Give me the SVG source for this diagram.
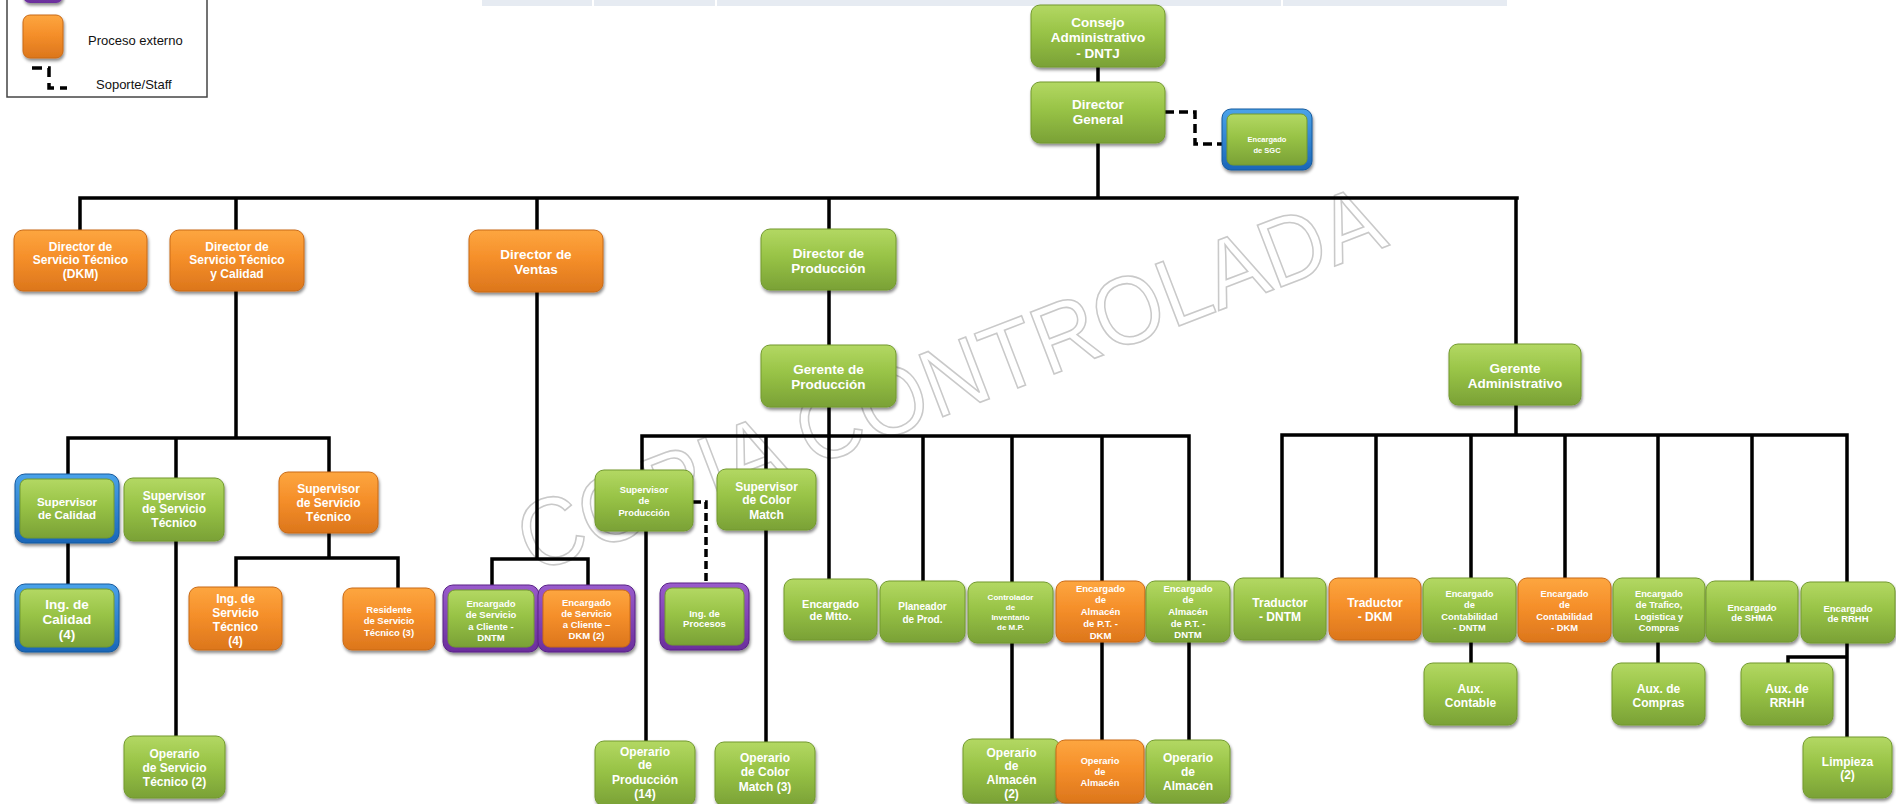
<svg xmlns="http://www.w3.org/2000/svg" width="1896" height="804" viewBox="0 0 1896 804">
<defs>
<linearGradient id="gg" x1="0" y1="0" x2="0" y2="1">
<stop offset="0" stop-color="#b3d863"/><stop offset="0.45" stop-color="#98c346"/><stop offset="1" stop-color="#7aa136"/>
</linearGradient>
<linearGradient id="og" x1="0" y1="0" x2="0" y2="1">
<stop offset="0" stop-color="#fda640"/><stop offset="0.45" stop-color="#f58f2a"/><stop offset="1" stop-color="#dc761c"/>
</linearGradient>
<linearGradient id="bg" x1="0" y1="0" x2="0" y2="1">
<stop offset="0" stop-color="#4aa3ea"/><stop offset="1" stop-color="#1a66b8"/>
</linearGradient>
<linearGradient id="pg" x1="0" y1="0" x2="0" y2="1">
<stop offset="0" stop-color="#9a5ccc"/><stop offset="1" stop-color="#6b2e9c"/>
</linearGradient>
<filter id="sh" x="-10%" y="-10%" width="120%" height="130%">
<feDropShadow dx="1" dy="2.5" stdDeviation="1.6" flood-color="#000" flood-opacity="0.45"/>
</filter>
</defs>
<style>
.g{fill:url(#gg);stroke:#72992f;stroke-width:1}
.o{fill:url(#og);stroke:#c96a16;stroke-width:1}
.b{fill:url(#bg);stroke:#155a9e;stroke-width:1}
.p{fill:url(#pg);stroke:#5a2387;stroke-width:1}
.n{filter:url(#sh)}
.t{fill:#fff;font-family:'Liberation Sans',Arial,sans-serif;font-weight:bold;text-anchor:middle}
.c{fill:none;stroke:#000;stroke-width:3.5;stroke-linecap:square}
.d{fill:none;stroke:#000;stroke-width:3.5;stroke-dasharray:9 5}
.lg{font-family:'Liberation Sans',Arial,sans-serif;font-size:13px;fill:#111}
</style>
<rect width="1896" height="804" fill="#fff"/>
<g id="topbar">
<rect x="482" y="0" width="1025" height="6" fill="#e6ebf2"/>
<rect x="592" y="0" width="2" height="6" fill="#fff"/>
<rect x="715" y="0" width="2" height="6" fill="#fff"/>
<rect x="1281" y="0" width="2" height="6" fill="#fff"/>
</g>
<g id="legend">
<rect x="7" y="-10" width="200" height="107" fill="#fff" stroke="#444" stroke-width="1.5"/>
<rect x="23" y="-40" width="40" height="43" rx="7" fill="url(#pg)" class="n"/>
<rect x="23" y="15" width="40" height="43" rx="7" class="o n"/>
<text x="88" y="45" class="lg">Proceso externo</text>
<path d="M32 68 H49 V88 H67" fill="none" stroke="#000" stroke-width="3.5" stroke-dasharray="10 6"/>
<text x="96" y="89" class="lg">Soporte/Staff</text>
</g>
<g id="watermark">
<text x="533" y="574" transform="rotate(-21 533 574)" font-family="'Liberation Sans',Arial,sans-serif" font-size="96" textLength="918" lengthAdjust="spacingAndGlyphs" fill="none" stroke="#c9c9c9" stroke-width="1.6">COPIA CONTROLADA</text>
</g>
<g id="connectors">
<path class="c" d="M1098 67 V82 M1098 143 V198 M80 198 H1517 M80 198 V230 M236 198 V230 M537 198 V230 M829 198 V229 M1516 198 V344"/>
<path class="d" d="M1165 112 H1195 V144 H1222"/>
<path class="c" d="M236 291 V438 M68 438 H329 M68 438 V474 M176 438 V478 M329 438 V472 M68 543 V584 M176 541 V736 M329 533 V558 M236 558 H398 M236 558 V587 M398 558 V588"/>
<path class="c" d="M537 292 V559 M492 559 H588 M492 559 V585 M588 559 V585"/>
<path class="c" d="M829 290 V345 M829 407 V579 M642 436 H1189 M642 436 V470 M766 436 V469 M923 436 V581 M1012 436 V582 M1102 436 V581 M1189 436 V581 M646 531 V741 M766 530 V742 M1012 643 V739 M1102 642 V740 M1189 642 V740"/>
<path d="M693 502 H706 V583" fill="none" stroke="#000" stroke-width="3.5" stroke-dasharray="8 4"/>
<path class="c" d="M1516 405 V435 M1282 435 H1847 M1282 435 V578 M1376 435 V578 M1471 435 V578 M1565 435 V578 M1658 435 V578 M1752 435 V581 M1847 435 V582 M1471 642 V663 M1658 642 V663 M1847 643 V737 M1847 657 H1788 V663"/>
</g>
<g id="consejo"><rect x="1031" y="5" width="134" height="62" rx="9" class="g n"/><text class="t" font-size="13.5"><tspan x="1098" y="26.5">Consejo</tspan><tspan x="1098" y="42">Administrativo</tspan><tspan x="1098" y="57.5">- DNTJ</tspan></text></g>
<g id="director-general"><rect x="1031" y="82" width="134" height="61" rx="9" class="g n"/><text class="t" font-size="13.5"><tspan x="1098" y="109">Director</tspan><tspan x="1098" y="124">General</tspan></text></g>
<g id="sgc"><rect x="1222" y="109" width="90" height="61" rx="9" class="b n"/><rect x="1227" y="114" width="80" height="51" rx="6" class="g"/><text class="t" font-size="7.5"><tspan x="1267" y="141.7">Encargado</tspan><tspan x="1267" y="152.7">de SGC</tspan></text></g>
<g id="dst-dkm"><rect x="14" y="230" width="133" height="61" rx="9" class="o n"/><text class="t" font-size="12"><tspan x="80.5" y="251">Director de</tspan><tspan x="80.5" y="264.3">Servicio Técnico</tspan><tspan x="80.5" y="277.6">(DKM)</tspan></text></g>
<g id="dst-calidad"><rect x="170" y="230" width="134" height="61" rx="9" class="o n"/><text class="t" font-size="12"><tspan x="237" y="251">Director de</tspan><tspan x="237" y="264.3">Servicio Técnico</tspan><tspan x="237" y="277.6">y Calidad</tspan></text></g>
<g id="ventas"><rect x="469" y="230" width="134" height="62" rx="9" class="o n"/><text class="t" font-size="13.5"><tspan x="536" y="258.8">Director de</tspan><tspan x="536" y="273.8">Ventas</tspan></text></g>
<g id="dir-produccion"><rect x="761" y="229" width="135" height="61" rx="9" class="g n"/><text class="t" font-size="13.5"><tspan x="828.5" y="258">Director de</tspan><tspan x="828.5" y="273">Producción</tspan></text></g>
<g id="ger-produccion"><rect x="761" y="345" width="135" height="62" rx="9" class="g n"/><text class="t" font-size="13.5"><tspan x="828.5" y="374">Gerente de</tspan><tspan x="828.5" y="389">Producción</tspan></text></g>
<g id="ger-admin"><rect x="1449" y="344" width="132" height="61" rx="9" class="g n"/><text class="t" font-size="13.5"><tspan x="1515" y="373">Gerente</tspan><tspan x="1515" y="388">Administrativo</tspan></text></g>
<g id="sup-calidad"><rect x="15" y="474" width="104" height="69" rx="10" class="b n"/><rect x="20" y="479" width="94" height="59" rx="7" class="g"/><text class="t" font-size="11.5"><tspan x="67" y="506">Supervisor</tspan><tspan x="67" y="518.6">de Calidad</tspan></text></g>
<g id="ing-calidad"><rect x="15" y="584" width="104" height="68" rx="10" class="b n"/><rect x="20" y="589" width="94" height="58" rx="7" class="g"/><text class="t" font-size="13.5"><tspan x="67" y="608.8">Ing. de</tspan><tspan x="67" y="623.8">Calidad</tspan><tspan x="67" y="638.8">(4)</tspan></text></g>
<g id="sup-st-g"><rect x="124" y="478" width="100" height="63" rx="9" class="g n"/><text class="t" font-size="12"><tspan x="174" y="499.5">Supervisor</tspan><tspan x="174" y="513">de Servicio</tspan><tspan x="174" y="527">Técnico</tspan></text></g>
<g id="op-st"><rect x="124" y="736" width="101" height="62" rx="9" class="g n"/><text class="t" font-size="12"><tspan x="174.5" y="757.5">Operario</tspan><tspan x="174.5" y="771.5">de Servicio</tspan><tspan x="174.5" y="785.5">Técnico (2)</tspan></text></g>
<g id="sup-st-o"><rect x="279" y="472" width="99" height="61" rx="9" class="o n"/><text class="t" font-size="12"><tspan x="328.5" y="492.5">Supervisor</tspan><tspan x="328.5" y="506.5">de Servicio</tspan><tspan x="328.5" y="520.5">Técnico</tspan></text></g>
<g id="ing-st"><rect x="189" y="587" width="93" height="63" rx="9" class="o n"/><text class="t" font-size="12"><tspan x="235.5" y="602.5">Ing. de</tspan><tspan x="235.5" y="616.5">Servicio</tspan><tspan x="235.5" y="630.5">Técnico</tspan><tspan x="235.5" y="644.5">(4)</tspan></text></g>
<g id="residente"><rect x="343" y="588" width="92" height="62" rx="9" class="o n"/><text class="t" font-size="9.5"><tspan x="389" y="612.5">Residente</tspan><tspan x="389" y="623.5">de Servicio</tspan><tspan x="389" y="635.5">Técnico (3)</tspan></text></g>
<g id="esc-dntm"><rect x="443" y="585" width="96" height="67" rx="10" class="p n"/><rect x="448" y="590" width="86" height="57" rx="7" class="g"/><text class="t" font-size="9.5"><tspan x="491" y="606.5">Encargado</tspan><tspan x="491" y="617.5">de Servicio</tspan><tspan x="491" y="629.5">a  Cliente -</tspan><tspan x="491" y="640.5">DNTM</tspan></text></g>
<g id="esc-dkm"><rect x="538" y="585" width="97" height="67" rx="10" class="p n"/><rect x="543" y="590" width="87" height="57" rx="7" class="o"/><text class="t" font-size="9.5"><tspan x="586.5" y="605.5">Encargado</tspan><tspan x="586.5" y="616.5">de Servicio</tspan><tspan x="586.5" y="627.5">a  Cliente –</tspan><tspan x="586.5" y="638.5">DKM  (2)</tspan></text></g>
<g id="sup-prod"><rect x="595" y="470" width="98" height="61" rx="9" class="g n"/><text class="t" font-size="9.3"><tspan x="644" y="492.5">Supervisor</tspan><tspan x="644" y="503.5">de</tspan><tspan x="644" y="515.5">Producción</tspan></text></g>
<g id="sup-cm"><rect x="717" y="469" width="99" height="61" rx="9" class="g n"/><text class="t" font-size="12"><tspan x="766.5" y="490.5">Supervisor</tspan><tspan x="766.5" y="503.5">de Color</tspan><tspan x="766.5" y="518.5">Match</tspan></text></g>
<g id="ing-procesos"><rect x="660" y="583" width="89" height="67" rx="10" class="p n"/><rect x="665" y="588" width="79" height="57" rx="7" class="g"/><text class="t" font-size="9.5"><tspan x="704.5" y="616.5">Ing. de</tspan><tspan x="704.5" y="626.5">Procesos</tspan></text></g>
<g id="op-prod"><rect x="595" y="741" width="100" height="65" rx="9" class="g n"/><text class="t" font-size="12"><tspan x="645" y="755.5">Operario</tspan><tspan x="645" y="768.5">de</tspan><tspan x="645" y="783.5">Producción</tspan><tspan x="645" y="797.5">(14)</tspan></text></g>
<g id="op-cm"><rect x="715" y="742" width="100" height="64" rx="9" class="g n"/><text class="t" font-size="12"><tspan x="765" y="761.5">Operario</tspan><tspan x="765" y="775.5">de Color</tspan><tspan x="765" y="790.5">Match (3)</tspan></text></g>
<g id="mtto"><rect x="784" y="579" width="93" height="61" rx="9" class="g n"/><text class="t" font-size="11"><tspan x="830.5" y="608">Encargado</tspan><tspan x="830.5" y="620">de Mtto.</tspan></text></g>
<g id="planeador"><rect x="880" y="581" width="85" height="61" rx="9" class="g n"/><text class="t" font-size="10"><tspan x="922.5" y="609.5">Planeador</tspan><tspan x="922.5" y="622.5">de Prod.</tspan></text></g>
<g id="controlador"><rect x="968" y="582" width="85" height="61" rx="9" class="g n"/><text class="t" font-size="8"><tspan x="1010.5" y="599.5">Controlador</tspan><tspan x="1010.5" y="609.5">de</tspan><tspan x="1010.5" y="619.5">Inventario</tspan><tspan x="1010.5" y="629.5">de M.P.</tspan></text></g>
<g id="ealm-dkm"><rect x="1056" y="581" width="89" height="61" rx="9" class="o n"/><text class="t" font-size="9.5"><tspan x="1100.5" y="591.5">Encargado</tspan><tspan x="1100.5" y="602.5">de</tspan><tspan x="1100.5" y="614.5">Almacén</tspan><tspan x="1100.5" y="626.5">de  P.T. -</tspan><tspan x="1100.5" y="638.5">DKM</tspan></text></g>
<g id="ealm-dntm"><rect x="1146" y="581" width="84" height="61" rx="9" class="g n"/><text class="t" font-size="9.5"><tspan x="1188" y="591.5">Encargado</tspan><tspan x="1188" y="602.5">de</tspan><tspan x="1188" y="614.5">Almacén</tspan><tspan x="1188" y="626.5">de  P.T. -</tspan><tspan x="1188" y="637.5">DNTM</tspan></text></g>
<g id="op-alm-2"><rect x="963" y="739" width="97" height="64" rx="9" class="g n"/><text class="t" font-size="12"><tspan x="1011.5" y="756.5">Operario</tspan><tspan x="1011.5" y="769.5">de</tspan><tspan x="1011.5" y="783.5">Almacén</tspan><tspan x="1011.5" y="797.5">(2)</tspan></text></g>
<g id="op-alm-o"><rect x="1056" y="740" width="88" height="63" rx="9" class="o n"/><text class="t" font-size="9.3"><tspan x="1100" y="763.5">Operario</tspan><tspan x="1100" y="774.5">de</tspan><tspan x="1100" y="785.5">Almacén</tspan></text></g>
<g id="op-alm-g"><rect x="1146" y="740" width="84" height="63" rx="9" class="g n"/><text class="t" font-size="12"><tspan x="1188" y="761.5">Operario</tspan><tspan x="1188" y="775.5">de</tspan><tspan x="1188" y="789.5">Almacén</tspan></text></g>
<g id="trad-dntm"><rect x="1234" y="578" width="92" height="62" rx="9" class="g n"/><text class="t" font-size="12"><tspan x="1280" y="606.5">Traductor</tspan><tspan x="1280" y="620.5">- DNTM</tspan></text></g>
<g id="trad-dkm"><rect x="1329" y="578" width="92" height="62" rx="9" class="o n"/><text class="t" font-size="12"><tspan x="1375" y="606.5">Traductor</tspan><tspan x="1375" y="620.5">- DKM</tspan></text></g>
<g id="cont-dntm"><rect x="1423" y="578" width="93" height="64" rx="9" class="g n"/><text class="t" font-size="9.3"><tspan x="1469.5" y="596.5">Encargado</tspan><tspan x="1469.5" y="607.5">de</tspan><tspan x="1469.5" y="619.5">Contabilidad</tspan><tspan x="1469.5" y="630.5">- DNTM</tspan></text></g>
<g id="cont-dkm"><rect x="1518" y="578" width="93" height="64" rx="9" class="o n"/><text class="t" font-size="9.3"><tspan x="1564.5" y="596.5">Encargado</tspan><tspan x="1564.5" y="607.5">de</tspan><tspan x="1564.5" y="619.5">Contabilidad</tspan><tspan x="1564.5" y="630.5">- DKM</tspan></text></g>
<g id="trafico"><rect x="1613" y="578" width="92" height="64" rx="9" class="g n"/><text class="t" font-size="9.3"><tspan x="1659" y="596.5">Encargado</tspan><tspan x="1659" y="607.5">de Trafico,</tspan><tspan x="1659" y="619.5">Logistica y</tspan><tspan x="1659" y="630.5">Compras</tspan></text></g>
<g id="shma"><rect x="1706" y="581" width="92" height="61" rx="9" class="g n"/><text class="t" font-size="9.5"><tspan x="1752" y="610.5">Encargado</tspan><tspan x="1752" y="620.5">de SHMA</tspan></text></g>
<g id="rrhh"><rect x="1801" y="582" width="94" height="61" rx="9" class="g n"/><text class="t" font-size="9.5"><tspan x="1848" y="611.5">Encargado</tspan><tspan x="1848" y="621.5">de RRHH</tspan></text></g>
<g id="aux-contable"><rect x="1424" y="663" width="93" height="62" rx="9" class="g n"/><text class="t" font-size="12"><tspan x="1470.5" y="692.5">Aux.</tspan><tspan x="1470.5" y="706.5">Contable</tspan></text></g>
<g id="aux-compras"><rect x="1612" y="663" width="93" height="62" rx="9" class="g n"/><text class="t" font-size="12"><tspan x="1658.5" y="692.5">Aux. de</tspan><tspan x="1658.5" y="706.5">Compras</tspan></text></g>
<g id="aux-rrhh"><rect x="1741" y="663" width="92" height="62" rx="9" class="g n"/><text class="t" font-size="12"><tspan x="1787" y="692.5">Aux. de</tspan><tspan x="1787" y="706.5">RRHH</tspan></text></g>
<g id="limpieza"><rect x="1803" y="737" width="89" height="61" rx="9" class="g n"/><text class="t" font-size="12"><tspan x="1847.5" y="765.5">Limpieza</tspan><tspan x="1847.5" y="778.5">(2)</tspan></text></g>
</svg>
